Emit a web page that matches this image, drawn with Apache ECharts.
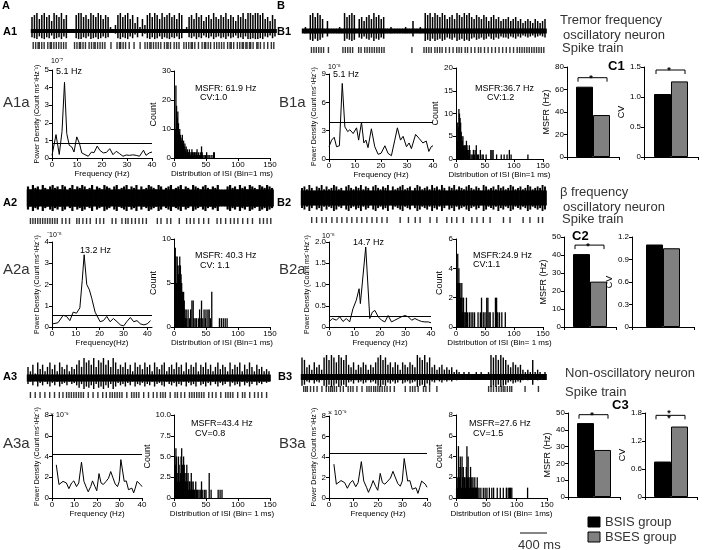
<!DOCTYPE html>
<html><head><meta charset="utf-8">
<script src="https://cdn.jsdelivr.net/npm/echarts@6/dist/echarts.min.js"></script>
<style>html,body{margin:0;padding:0;background:#fff}#c{width:708px;height:550px}</style>
</head><body><div id="c"></div>
<script>
// ---------------- DATA ----------------
// spike traces: amplitude (0-9) per time slot
const a1Trace = [7,8,9,6,8,9,7,8,5,9,8,7,9,6,8, 1,0,1, 8,9,9,7,8,6,9,8,7,9,8,6,8,7, 2,1,3, 8,9,7,8,9,6,8, 4,7,2,6,3, 8,9,7,9,8,6,9,7,8,9,7,8,6,9,8, 1,2, 7,8,6,9,7,8,5,7,8,6,9,7,6,8,7,9,6,8,7,5,8,7,9,6, 9,9,8,9,9,8,9, 6,7,5,8,6];
const b1Trace = [1,2,1, 8,9,7,9,8,6, 1,5,1,1,1,1,2,1, 9,7,8,9,8, 1,6,7,5, 7,8,6,9,7,8,6,7, 1,1,2,1,1,1,1,1,2,1,1, 5, 1,1,2,1, 9,8,9,7,9, 8,7,9,8,6,7,8,6, 9,8,7,9,8,9,7,6,8, 7,6,8,7,5,7,8,6,7,5,6, 6,7,5,6,7, 5,6,4,5,6,5,4,6,5,4,5,6];
const a2Trace = [8,6,9,7,8,5,9,7,6,8, 9,7,8,6,9,8,5,7,9,6, 8,7,9,8,6,7,9,5,8,7, 6,9,8,7,5,8,9,6,7,8, 9,6,8,7,9,5,8,6,7,9, 8,7,6,9,8,5,7,8,9,6, 7,8,9,6,8,7,5,9,8,7, 6,8,9,7,6,8,7,9,4,3, 5,8,9,7,8,6,9,7,8,6, 9,8,7,6,9,8,7,9,8,7];
const b2Trace = [7,8,6,9,7,5,8,7,9,6, 8,6,7,9,8,6,7,5,8,9, 7,6,8,7,9,6,8,7,5,8, 9,7,6,8,7,9,5,8,6,7, 8,9,6,7,8,5,7,9,8,6, 7,8,6,9,7,8,6,9,7,5, 8,7,9,6,8,7,6,8,9,7, 6,8,7,5,9,8,6,7,8,6, 9,7,8,6,7,9,8,6,7,8, 6,7,9,8,6,7,8,7,9,8];
const a3Trace = [5,3,6,2,7,4,6,3,5,7, 4,6,3,7,5,4,6,3,5,4, 6,8,5,9,7,8,6,9,5,8, 7,9,6,8,5,9,7,4,6,5, 7,4,6,3,7,5,6,4,7,5, 6,3,7,5,4,6,7,3,5,6, 4,7,5,6,3,7,4,6,5,7, 3,6,5,7,4,6,3,5,7,4, 6,5,3,7,4,6,5,7,3,6, 4,7,5,3,6,4,5,3,4,3];
const b3Trace = [8,7, 4,5,3,6,4,5,3, 8,9,7,9,8,6,9,8,7,9, 5,4,6,3,5,4,6,5,3,5,4,6, 8,9,7,8, 5,6,4,6,5,3,6,5,4,6,5,4, 9,8,7,9,6,8, 4,5,3,4,5,3,4,3,4,2,3, 2,1,2,1,2,1,1,2,1,2,1,1,2, 9,8,9,7,9,8,7, 5,4,6,5,4,5,3, 2,3,2,7,2,3,2,1,2];

// spike rasters: spike times (% of trace length)
const a1Raster = [0.5,1.5,2.5,3,4,5,6.5,7.5,8,9,10,11,12,13,14, 17.5,18.5,19.5,20,21,22,23.5,24.5,25.5,26,27,28,29,30, 32.5, 35,36,36.5,37.5,38.5,40, 42,44.5, 46.5,47.5,48.5,49,50,51,52,53,54.5,55.5,56,57,58.5,59.5,60.5, 62.5,63.5,64.5,65.5,66,67,68.5,70,71,71.5,72.5,73.5,75,76,77,78,79,80.5,81.5,82,83,84.5,85.5,86.5,87,88,88.5,89.5,90,91,92.5,93,94,95.5,97,98.5,99.5];
const b1Raster = [3.5,4.5,5.5,6.5,7.5,8.5, 10.5, 16.5,17.5,18.5,19.5,20.5, 23,24,25.5, 26.5,27.5,28.5,29.5,30.5,31.5,32.5,33.5, 45, 50,51,52,53,54.5, 55.5,56.5,57.5,59,60.5,62, 63.5,64.5,65.5,67,68,69.5,71, 72.5,73.5,75,76.5,78,79.5,81,82.5, 84,85.5,87, 88.5,89.5,90.5,91.5,92.5,93.5,94.5,95.5,96.5,97.5,98.5,99.5];
const a2Raster = [1,2,3,4,5,6,7,8,9,10,11,12, 14,15.5,17, 20,21,22.5,24,25.5, 28,29.5,31, 34.5,36, 38.5,40,41,42.5,44, 45.5,47,48.5, 53,54.5, 57,58.5, 62, 65,66.5,68,70, 72,74, 77.5,79,81, 83,84.5,86,88, 90,92, 95,96.5,98,99.5];
const b2Raster = [4,6,8.2,10,12.3,14.4,16.4,18.5,20.5,22.6,24.6,26.7,28.8,30.8,32.9,35,40.4,43.8,46.6,48.6,52.7,55.5,59.6,61.6,63.7,66.4,69.9,72,74.6,77.4,82.9,85.6,91,93.8,97.3,99];
const a3Raster = [1,3,5,7,9,11,13,14.5,16,17,18,19,20,21,22,23,25,27,29,31,32.5,34,35,36,37,38,39,41,43,44,45,46,48,50,52,53.5,55,56,57,59,61,62,63.5,65,67,68,69,70,71,72,73,75,76.5,78,80,82,83,84,85,87,89,90,92,94,95.5,97,99];
const b3Raster = [0.7,1.5,2.2, 3.5,4.8, 6.2, 8.2, 10,11,11.8,12.5,13.3,14.2, 15.8, 17, 19,20,21, 22.6, 24.7, 26.7,27.6,28.5,29.5,30.3,31.2,32,33,34,35, 36.3, 38, 42.5, 44.5,45.5,46.5,47.8, 50,51,52.5, 55.5, 76.8,77.8,78.8,80,81,82,82.8,83.5,84.5,85.5,86.3, 91.8, 97.3];

// power spectral densities (Hz, value)
const a1PsdHz  = [0,1.6,2.9,4,5,5.9,6.9,7.9,8.8,9.9,11,11.9,13.2,14.5,15.8,16.8,18.1,19.1,20.5,21.8,23.1,24.4,25.7,27,28.4,29.7,31,32.3,33.7,35,36.6,37.6,38.9,40];
const a1PsdVal = [0.15,1.33,0.2,1.5,4.3,1.39,0.72,0.63,0.34,1.2,0.82,0.29,0.19,0.1,0.34,0.3,0.68,0.44,0.29,0.32,0.53,0.19,0.38,0.25,0.1,0.17,0.15,0.18,0.15,0.1,0.44,0.15,0.29,0.34];
const b1PsdHz  = [0,1,2,2.9,4,5.1,6.1,7.2,8,9.3,10.6,11.4,12.5,13.4,14.2,15,16.3,17.6,18.9,20,21.5,22.7,24,25.3,26.3,27.5,28.5,29.8,30.8,31.7,33.3,34.6,36.1,37.4,38.4,39.3,40];
const b1PsdVal = [1.3,2.0,2.3,1.3,1.4,8.0,3.4,2.9,3.1,2.7,3.3,2.0,3.9,1.7,2.0,1.2,3.2,1.3,0.5,0.6,1.4,0.6,0.35,2.0,3.3,2.0,2.4,1.3,1.7,1.1,2.6,2.2,1.7,1.9,0.8,1.3,1.4];
const a2PsdHz  = [0.4,2.5,4.7,6.1,7.5,8.9,10.3,11.7,12.7,13.5,14.6,15.7,16.7,18.1,18.8,20.2,21.6,23,24.4,25.8,27.3,28.7,30.1,31.4,32.9,34.3,35.7,37.1,38.6,40,41.4];
const a2PsdVal = [0.15,0.2,0.55,0.5,0.3,0.7,0.65,0.9,2.2,3.4,2.0,1.75,1.35,0.7,0.55,0.25,0.3,0.5,0.25,0.4,0.25,0.1,0.05,0.25,0.45,0.25,0.3,0.15,0.1,0.15,0.3];
const b2PsdHz  = [0,1.3,2.9,4.2,5.5,6.8,8.1,9.4,10.7,11.8,12.3,14.4,16,17,18,19.3,20.6,21.9,23.2,24.5,25.8,27.1,28.4,29.8,31.1,32.4,33.7,35,36.3,37.6,38.9,40];
const b2PsdVal = [0.12,0.2,0.16,0.24,0.13,0.2,0.12,0.43,0.63,0.9,0.55,1.88,0.2,0.35,0.39,0.24,0.16,0.12,0.27,0.12,0.16,0.2,0.24,0.27,0.24,0.16,0.2,0.16,0.13,0.12,0.12,0.1];
const a3PsdHz  = [1.9,3.1,4.9,6.4,7.5,8.7,9.7,10.9,11.9,13.1,14.2,15.4,16.1,17.2,18,19.1,19.9,20.9,21.8,22.8,24,25.1,26.1,27,28.1,29.1,29.9,30.6,31.3,32.1,33,34,34.8,35.5,36.3,37,37.8,39.3,40];
const a3PsdVal = [3.2,1.3,1.6,1.45,0.9,1.45,1.65,1.1,1.45,3.45,1.6,0.95,0.6,1.1,1.65,1.1,0.7,2.35,1.45,1.3,1.6,1.9,2.55,2.0,1.35,1.1,1.6,3.7,3.7,1.6,1.65,0.8,0.7,0.95,0.5,0.95,1.6,1.3,1.1];
const b3PsdHz  = [2,3,4.9,6.4,7.5,8.7,9.7,10.9,11.9,13.2,14.2,15.4,16.1,17.2,18,19.1,19.9,20.9,21.8,22.8,24,25.1,26.1,27,28.1,29.1,29.9,30.7,31.3,32.1,33,34,34.8,35.5,36.3,37,37.8,39.3,40];
const b3PsdVal = [3.3,1.35,1.7,1.5,0.95,1.5,1.7,1.1,1.5,3.55,1.65,1.0,0.55,1.15,1.7,1.1,0.75,2.4,1.5,1.35,1.65,1.95,2.6,2.05,1.4,1.15,1.65,3.85,3.8,1.65,1.7,0.85,0.75,1.0,0.45,1.0,1.65,1.35,1.05];
const psdThreshold = {a1:0.82, b1:3.85, a2:0.55, b2:0.26, a3:4.26, b3:4.35};

// ISI histograms (bin in ms, count)
const a1IsiMs = [1,2,3,4,5,6,7,8,9,10,11,12,13,14,15,16,17,18,19,20,21,22,23,24,25,26,27,28,29,30,31,32,33,34,35,36,37,38,39,40,41,42,43,44,45,47,49,51,53,55,58,61,62,63];
const a1IsiN  = [3,10,25,18,14,16,12,9,10,8,7,6,8,5,6,4,5,3,4,2,3,2,2,3,2,1,2,3,2,2,1,2,2,1,2,3,1,2,1,1,2,1,4,2,1,1,1,2,1,1,1,1,2,2];
const b1IsiMs = [2,3,4,5,6,7,8,9,10,11,12,13,14,15,16,17,18,19,20,21,22,23,24,26,28,30,32,33,35,37,39,42,45,47,52,60,62,64,70,78,83,88,92,95,124];
const b1IsiN  = [4,8,7,11,10,9,8,6,5,4,5,3,2,3,3,2,4,3,2,1,2,3,2,1,1,2,1,2,3,1,1,2,1,1,1,2,2,2,1,1,1,1,2,1,1];
const a2IsiMs = [1,2,3,4,5,6,7,8,9,10,11,12,13,14,15,16,17,18,19,20,22,24,26,28,30,31,33,35,38,40,42,43,45,47,49,50,53,55,57,59,71,74,77,80,83];
const a2IsiN  = [3,9,8,5,8,7,6,7,8,7,6,5,4,3,4,3,2,1,2,1,2,1,2,3,3,1,1,1,1,2,1,3,1,2,1,2,2,2,1,4,1,1,1,1,1];
const b2IsiMs = [2,3,4,5,6,7,8,9,10,11,12,13,14,16,18,20,23,26,29,32,38,42,44,47,50,53,55,57,59,64,68,70,72,75,79,85];
const b2IsiN  = [3,5,3,4,3,3,2,2,3,1,2,2,1,1,2,1,1,1,1,1,1,1,2,1,1,2,2,1,1,1,2,2,1,1,1,1];
const a3IsiMs = [1,2,3,4,5,6,7,8,9,10,11,12,13,14,15,16,17,18,19,20,21,22,23,24,25,26,27,28,29,30,31,32,34,35,37,39,41,43,45,48,50,55,58,69,72,75];
const a3IsiN  = [5,4,6,5,3,2,5,4,2,3,5,6,4,2,5,4,3,2,3,4,2,3,1,2,2,1,3,2,1,2,1,1,2,1,1,1,1,2,1,1,1,3,1,1,1,1];
const b3IsiMs = [1,2,3,4,5,6,7,8,9,10,11,12,13,14,15,16,17,18,19,20,21,22,23,24,25,26,27,28,29,30,31,32,33,34,35,36,38,41,45,48,51,55,59,62,68,73,78,83,86,88,90,92,118];
const b3IsiN  = [1,1,2,5,3,2,4,3,1,4,2,3,1,2,2,1,3,5,2,4,2,1,2,3,1,2,1,2,1,1,2,1,1,1,2,1,1,1,1,1,1,1,1,1,1,1,1,1,1,1,1,1,1];

// group comparison (BSIS, BSES)
const groups = ['BSIS group', 'BSES group'];
const groupColors = ['#000000', '#808080'];
const c1Msfr = [62.5, 37.3], c1Cv = [1.05, 1.26];
const c2Msfr = [40.5, 25.2], c2Cv = [1.1, 1.05];
const c3Msfr = [44.0, 28.0], c3Cv = [0.76, 1.51];
// significance marks: [label, bracket height]
const c1MsfrSig = ['*', 70.5], c1CvSig = ['*', 1.45];
const c2MsfrSig = ['*', 45.5];
const c3MsfrSig = ['*', 49], c3CvSig = ['*\n*', 1.75];

// ---------------- BUILD ----------------
const FONT = '"Liberation Sans", Arial, Helvetica, sans-serif';
const grids = [], xAxes = [], yAxes = [], series = [], graphics = [];
const axLine = {show: true, onZero: false, lineStyle: {color: '#000', width: 1}};
const axTick = {show: true, length: 3, inside: false, lineStyle: {color: '#000', width: 1}};
const axLabel = {show: true, fontSize: 8, color: '#000', margin: 3, fontFamily: FONT};
const fmt1 = v => (v === 0 ? '0' : v.toFixed(1));

function addGrid(l, t, w, h) { grids.push({left: l, top: t, width: w, height: h, containLabel: false}); return grids.length - 1; }

function trace(vals, raster, c) {
  const g = addGrid(c.left, c.base - c.up, c.width, c.up * 2);
  const xi = xAxes.push({gridIndex: g, type: 'value', min: 0, max: vals.length - 1, show: false}) - 1;
  const yi = yAxes.push({gridIndex: g, type: 'value', min: -1, max: 1, show: false}) - 1;
  series.push({type: 'custom', xAxisIndex: xi, yAxisIndex: yi, silent: true, clip: false,
    data: vals.map((v, i) => [i, v / 9]),
    renderItem: (p, api) => {
      const i = api.value(0), a = api.value(1);
      const t = api.coord([i, a]), b = api.coord([i, -a * c.down]), m = api.coord([i, 0]);
      const step = api.size([1, 0])[0];
      return {type: 'group', children: [
        {type: 'rect', shape: {x: m[0] - step / 2, y: m[1] - c.band, width: step + 0.6, height: c.band * 2}, style: {fill: '#000'}},
        {type: 'line', shape: {x1: t[0], y1: t[1], x2: b[0], y2: b[1]}, style: {stroke: '#000', lineWidth: c.lw}}
      ]};
    }});
  const g2 = addGrid(c.left, c.rTop, c.width, c.rH);
  const xr = xAxes.push({gridIndex: g2, type: 'value', min: 0, max: 100, show: false}) - 1;
  const yr = yAxes.push({gridIndex: g2, type: 'value', min: -1, max: 1, show: false}) - 1;
  series.push({type: 'scatter', xAxisIndex: xr, yAxisIndex: yr, silent: true, symbol: 'rect',
    symbolSize: [1.4, c.rH], itemStyle: {color: '#000'}, data: raster.map(t => [t, 0])});
}

function psd(hz, vals, thr, c) {
  const g = addGrid(...c.box);
  const xi = xAxes.push({gridIndex: g, type: 'value', min: 0, max: c.xmax, interval: 10,
    axisLine: axLine, axisTick: axTick, axisLabel: axLabel, splitLine: {show: false},
    name: c.xname, nameLocation: 'middle', nameGap: 11,
    nameTextStyle: {fontSize: 8, color: '#000', fontFamily: FONT}}) - 1;
  const yi = yAxes.push({gridIndex: g, type: 'value', min: 0, max: c.ymax, interval: c.yint,
    axisLine: axLine, axisTick: axTick, splitLine: {show: false},
    axisLabel: Object.assign({}, axLabel, c.yfmt ? {formatter: c.yfmt} : {}),
    name: 'Power Density (Count ms\u207B\u00B9Hz\u207B\u00B9)', nameLocation: 'middle', nameGap: c.ng || 10,
    nameTextStyle: {fontSize: 7, color: '#000', fontFamily: FONT}}) - 1;
  series.push({type: 'line', xAxisIndex: xi, yAxisIndex: yi, silent: true, symbol: 'none',
    data: hz.map((h, i) => [h, vals[i]]), lineStyle: {color: '#000', width: 1},
    markLine: {silent: true, symbol: 'none', label: {show: false},
      lineStyle: {color: '#000', width: 1, type: 'solid'}, data: [{yAxis: thr}]}});
}

function hist(ms, n, c) {
  const g = addGrid(...c.box);
  const xi = xAxes.push({gridIndex: g, type: 'value', min: 0, max: 150, interval: 50,
    axisLine: axLine, axisTick: axTick, axisLabel: axLabel, splitLine: {show: false},
    name: c.xname, nameLocation: 'middle', nameGap: 11,
    nameTextStyle: {fontSize: 8, color: '#000', fontFamily: FONT}}) - 1;
  const yi = yAxes.push({gridIndex: g, type: 'value', min: 0, max: c.ymax, interval: c.yint,
    axisLine: axLine, axisTick: axTick, splitLine: {show: false},
    axisLabel: Object.assign({}, axLabel, c.yfmt ? {formatter: c.yfmt} : {}),
    name: 'Count', nameLocation: 'middle', nameGap: c.ng || 12,
    nameTextStyle: {fontSize: 9, color: '#000', fontFamily: FONT}}) - 1;
  series.push({type: 'bar', xAxisIndex: xi, yAxisIndex: yi, silent: true, barWidth: 1.3,
    data: ms.map((m, i) => [m, n[i]]), itemStyle: {color: '#000'}});
}

function groupBars(vals, sig, c) {
  const g = addGrid(...c.box);
  const xi = xAxes.push({gridIndex: g, type: 'category', data: [''], boundaryGap: true,
    axisLine: axLine, axisTick: axTick, axisLabel: {show: false}}) - 1;
  const yi = yAxes.push({gridIndex: g, type: 'value', min: 0, max: c.ymax, interval: c.yint,
    axisLine: axLine, axisTick: axTick, splitLine: {show: false},
    axisLabel: Object.assign({}, axLabel, c.yfmt ? {formatter: c.yfmt} : {}),
    name: c.yname, nameLocation: 'middle', nameGap: c.ng,
    nameTextStyle: {fontSize: 9, color: '#000', fontFamily: FONT}}) - 1;
  series.push({type: 'bar', name: groups[0], xAxisIndex: xi, yAxisIndex: yi, silent: true,
    barWidth: 17, data: [vals[0]], itemStyle: {color: groupColors[0], borderColor: '#000', borderWidth: 1}});
  series.push({type: 'bar', name: groups[1], xAxisIndex: xi, yAxisIndex: yi, silent: true,
    barWidth: 17, barGap: '0%', data: [vals[1]], itemStyle: {color: groupColors[1], borderColor: '#000', borderWidth: 1}});
  if (sig) {
    series.push({type: 'custom', xAxisIndex: xi, yAxisIndex: yi, silent: true, clip: false,
      data: [[0, sig[1]]],
      renderItem: (p, api) => {
        const m = api.coord([api.value(0), api.value(1)]);
        const x1 = m[0] - 15, x2 = m[0] + 14, y = m[1];
        return {type: 'group', children: [
          {type: 'polyline', shape: {points: [[x1, y + 4], [x1, y], [x2, y], [x2, y + 4]]},
            style: {stroke: '#000', lineWidth: 1, fill: null}},
          {type: 'text', x: m[0] - 2, y: y + 1, style: {text: sig[0], fontSize: 9, lineHeight: 5,
            fill: '#000', align: 'center', verticalAlign: 'middle', fontFamily: FONT, fontWeight: 'bold'}}
        ]};
      }});
  }
}

function txt(x, y, s, size, o) {
  o = o || {};
  graphics.push({type: 'text', x: x, y: y, silent: true, style: {text: s, fontSize: size,
    fontFamily: FONT, fontWeight: o.bold ? 'bold' : 'normal', fill: o.color || '#000',
    align: o.align || 'left', verticalAlign: 'middle'}});
}

// Row 1
trace(a1Trace, a1Raster, {left: 32, width: 243, base: 31, up: 18, down: 0.45, band: 2, lw: 1.5, rTop: 42, rH: 7});
trace(b1Trace, b1Raster, {left: 303, width: 242, base: 31, up: 18, down: 0.55, band: 2.5, lw: 1.5, rTop: 47, rH: 6});
psd(a1PsdHz, a1PsdVal, psdThreshold.a1, {box: [52, 70, 100, 88], xmax: 40, ymax: 5, yint: 1, xname: 'Frequency (Hz)', ng: 9});
hist(a1IsiMs, a1IsiN, {box: [174, 71, 96, 87], ymax: 30, yint: 10, xname: 'Distribution of ISI (Bin=1 ms)'});
psd(b1PsdHz, b1PsdVal, psdThreshold.b1, {box: [329, 74, 104, 85], xmax: 40, ymax: 9, yint: 3, xname: 'Frequency (Hz)', ng: 9});
hist(b1IsiMs, b1IsiN, {box: [456, 68, 87, 91], ymax: 20, yint: 5, xname: 'Distribution of ISI (Bin=1 ms)'});
groupBars(c1Msfr, c1MsfrSig, {box: [567, 67, 52, 90], ymax: 80, yint: 20, yname: 'MSFR (Hz)', ng: 15});
groupBars(c1Cv, c1CvSig, {box: [644, 67, 54, 90], ymax: 1.5, yint: 0.5, yfmt: fmt1, yname: 'CV', ng: 9});

// Row 2
trace(a2Trace, a2Raster, {left: 28, width: 244, base: 198, up: 13, down: 1.0, band: 8.5, lw: 2.2, rTop: 218, rH: 6});
trace(b2Trace, b2Raster, {left: 302, width: 243, base: 198, up: 13, down: 1.0, band: 7.5, lw: 1.9, rTop: 217, rH: 6});
psd(a2PsdHz, a2PsdVal, psdThreshold.a2, {box: [52, 242, 100, 85], xmax: 42, ymax: 4, yint: 1, xname: 'Frequency(Hz)', ng: 9});
hist(a2IsiMs, a2IsiN, {box: [174, 239, 96, 88], ymax: 10, yint: 5, xname: 'Distribution of ISI (Bin=1 ms)'});
psd(b2PsdHz, b2PsdVal, psdThreshold.b2, {box: [329, 242, 102, 85], xmax: 40, ymax: 2, yint: 0.5, yfmt: fmt1, xname: 'Frequency (Hz)', ng: 13});
hist(b2IsiMs, b2IsiN, {box: [456, 239, 87, 88], ymax: 6, yint: 2, xname: 'Distribution of ISI (Bin= 1 ms)'});
groupBars(c2Msfr, c2MsfrSig, {box: [564, 237, 52, 90], ymax: 50, yint: 10, yname: 'MSFR (Hz)', ng: 15});
groupBars(c2Cv, null, {box: [632, 237, 62, 90], ymax: 1.2, yint: 0.3, yfmt: fmt1, yname: 'CV', ng: 12});

// Row 3
trace(a3Trace, a3Raster, {left: 28, width: 241, base: 378, up: 20, down: 0.55, band: 3.5, lw: 1.4, rTop: 392, rH: 6});
trace(b3Trace, b3Raster, {left: 302, width: 243, base: 377, up: 22, down: 0.45, band: 3, lw: 1.4, rTop: 386, rH: 6});
psd(a3PsdHz, a3PsdVal, psdThreshold.a3, {box: [52, 415, 90, 83], xmax: 40, ymax: 8, yint: 2, xname: 'Frequency (Hz)', ng: 9});
hist(a3IsiMs, a3IsiN, {box: [174, 415, 96, 83], ymax: 10, yint: 2.5, yfmt: fmt1, xname: 'Distribution of ISI (Bin= 1 ms)', ng: 16});
psd(b3PsdHz, b3PsdVal, psdThreshold.b3, {box: [329, 416, 98, 82], xmax: 40, ymax: 8, yint: 2, xname: 'Frequency (Hz)', ng: 9});
hist(b3IsiMs, b3IsiN, {box: [456, 415, 91, 83], ymax: 8, yint: 2, xname: 'Distribution of ISI (Bin= 1ms)'});
groupBars(c3Msfr, c3MsfrSig, {box: [568, 413, 52, 84], ymax: 50, yint: 10, yname: 'MSFR (Hz)', ng: 15});
groupBars(c3Cv, c3CvSig, {box: [645, 413, 52, 84], ymax: 1.8, yint: 0.6, yfmt: fmt1, yname: 'CV', ng: 12});

// Texts
txt(2, 6, 'A', 11, {bold: true}); txt(277, 6, 'B', 11, {bold: true});
txt(3, 32, 'A1', 11, {bold: true}); txt(277, 32, 'B1', 11, {bold: true});
txt(3, 203, 'A2', 11, {bold: true}); txt(277, 203, 'B2', 11, {bold: true});
txt(3, 377, 'A3', 11, {bold: true}); txt(278, 377, 'B3', 11, {bold: true});
txt(3, 103, 'A1a', 15, {color: '#333'}); txt(279, 103, 'B1a', 15, {color: '#333'});
txt(3, 270, 'A2a', 15, {color: '#333'}); txt(279, 270, 'B2a', 15, {color: '#333'});
txt(3, 444, 'A3a', 15, {color: '#333'}); txt(279, 444, 'B3a', 15, {color: '#333'});
txt(560, 20, 'Tremor frequency', 13, {color: '#333'});
txt(563, 35, 'oscillatory neuron', 13, {color: '#333'});
txt(562, 48, 'Spike train', 13, {color: '#333'});
txt(560, 192, '\u03B2 frequency', 13, {color: '#333'});
txt(563, 207, 'oscillatory neuron', 13, {color: '#333'});
txt(562, 219, 'Spike train', 13, {color: '#333'});
txt(565, 373, 'Non-oscillatory neuron', 13, {color: '#333'});
txt(565, 392, 'Spike train', 13, {color: '#333'});
txt(608, 66, 'C1', 13, {bold: true}); txt(572, 236, 'C2', 13, {bold: true}); txt(612, 405, 'C3', 13, {bold: true});
txt(56, 72, '5.1 Hz', 9); txt(333, 75, '5.1 Hz', 9); txt(80, 251, '13.2 Hz', 9); txt(353, 243, '14.7 Hz', 9);
txt(51, 61, '10\u207B\u2077', 7); txt(328, 67, '10\u207B\u2078', 7); txt(47, 235, '\u207B10\u207B\u2078', 7);
txt(322, 236, '10\u207B\u2078', 7); txt(50, 415, '\u00D7 10\u207B\u2079', 7); txt(328, 413, '\u00D7 10\u207B\u2079', 7);
txt(195, 89, 'MSFR: 61.9 Hz', 9); txt(200, 98, 'CV:1.0', 9);
txt(475, 89, 'MSFR:36.7 Hz', 9); txt(487, 98, 'CV:1.2', 9);
txt(195, 256, 'MSFR: 40.3 Hz', 9); txt(200, 266, 'CV: 1.1', 9);
txt(473, 256, 'MSFR:24.9 Hz', 9); txt(473, 265, 'CV:1.1', 9);
txt(191, 424, 'MSFR=43.4 Hz', 9); txt(195, 434, 'CV=0.8', 9);
txt(469, 424, 'MSFR=27.6 Hz', 9); txt(473, 434, 'CV=1.5', 9);
// legend key (group colours)
groups.forEach((name, i) => {
  graphics.push({type: 'rect', silent: true, shape: {x: 588, y: 517 + i * 15, width: 12, height: 10},
    style: {fill: groupColors[i], stroke: '#000', lineWidth: 1}});
  txt(605, 522 + i * 15, name, 13, {color: '#333'});
});
// scale bar
graphics.push({type: 'line', silent: true, shape: {x1: 520, y1: 533, x2: 547, y2: 533}, style: {stroke: '#333', lineWidth: 1.2}});
txt(518, 545, '400 ms', 13, {color: '#333'});

const chart = echarts.init(document.getElementById('c'), null, {renderer: 'canvas'});
chart.setOption({
  animation: false,
  backgroundColor: '#fff',
  textStyle: {fontFamily: FONT},
  grid: grids, xAxis: xAxes, yAxis: yAxes, series: series,
  graphic: graphics
});
</script></body></html>
